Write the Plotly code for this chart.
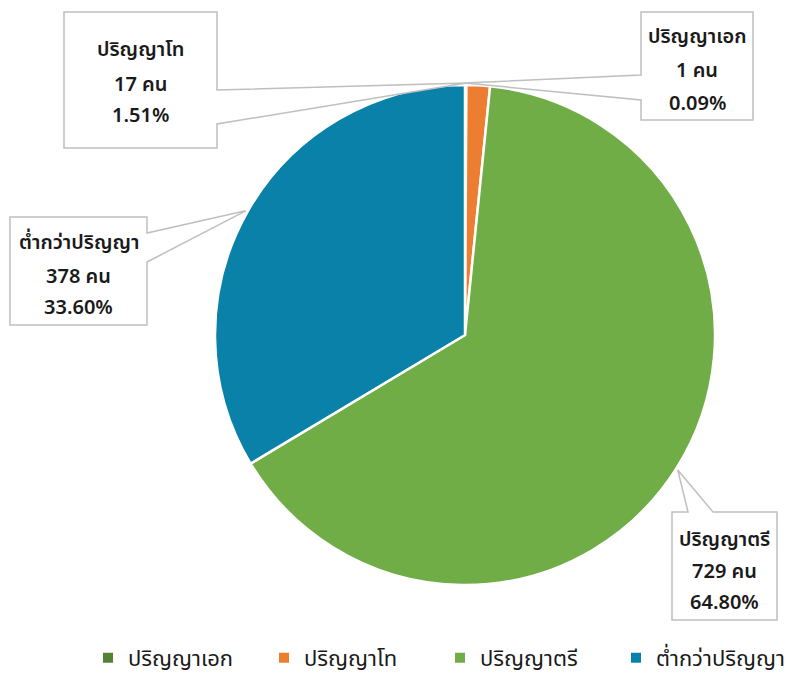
import math
import plotly.graph_objects as go

# ---- data ----
labels = ["ปริญญาเอก", "ปริญญาโท", "ปริญญาตรี", "ต่ำกว่าปริญญา"]
values = [1, 17, 729, 378]
colors = ["#548235", "#ED7D31", "#70AD47", "#0A81A8"]
unit = "คน"

# the page body has an 8px default margin: the figure is drawn at (8, 8)
OX, OY = 8, 8
W, H = 790, 671
CX, CY, R = 465, 335, 250  # pie centre / radius in window pixels


def px(x):
    return (x - OX) / W


def py(y):
    return 1 - (y - OY) / H


FONT = "Tahoma, 'Noto Sans Thai', 'Leelawadee UI', sans-serif"

fig = go.Figure(
    go.Pie(
        labels=labels,
        values=values,
        marker=dict(colors=colors, line=dict(color="white", width=2.5)),
        sort=False,
        direction="clockwise",
        rotation=0,
        textinfo="none",
        hoverinfo="label+value+percent",
        domain=dict(x=[px(CX - R), px(CX + R)], y=[py(CY + R), py(CY - R)]),
    )
)

total = sum(values)
# label boxes: (left, top, right, bottom), side of the callout, callout span
boxes = [
    dict(box=(641, 12, 753, 120), side="left", span=(75, 100), lines=(37, 71, 104)),
    dict(box=(64, 12, 217, 148), side="right", span=(90, 124), lines=(50, 85, 116)),
    dict(box=(672, 512, 777, 620), side="top", span=(688, 713), lines=(540, 572, 603)),
    dict(box=(10, 217, 147, 325), side="right", span=(233, 262), lines=(243, 277, 308)),
]

shapes = []
annotations = []
cum = 0.0
for lab, val, b in zip(labels, values, boxes):
    frac = val / total
    start = cum * 360
    mid = (cum + frac / 2) * 360
    cum += frac
    ang = start if frac < 0.02 else mid
    a = math.radians(ang)
    ax = CX + 252 * math.sin(a)
    ay = CY - 252 * math.cos(a)
    l, t, r, bt = b["box"]
    s0, s1 = b["span"]
    if b["side"] == "right":
        pts = [(l, t), (r, t), (r, s0), (ax, ay), (r, s1), (r, bt), (l, bt)]
    elif b["side"] == "left":
        pts = [(l, t), (r, t), (r, bt), (l, bt), (l, s1), (ax, ay), (l, s0)]
    else:  # top
        pts = [(l, t), (s0, t), (ax, ay), (s1, t), (r, t), (r, bt), (l, bt)]
    path = "M " + " L ".join(f"{px(x):.5f},{py(y):.5f}" for x, y in pts) + " Z"
    shapes.append(
        dict(type="path", path=path, xref="paper", yref="paper",
             fillcolor="white", line=dict(color="#BFBFBF", width=1.5), layer="above")
    )
    texts = [lab, f"{val} {unit}", f"{frac * 100:.2f}%"]
    xc = (l + r) / 2
    for txt, yy in zip(texts, b["lines"]):
        annotations.append(
            dict(text=txt, x=px(xc), y=py(yy), xref="paper", yref="paper",
                 xanchor="center", yanchor="middle", showarrow=False,
                 font=dict(family=FONT, size=20, weight=600, color="#1a1a1a"))
        )

fig.update_layout(
    width=W,
    height=H,
    margin=dict(l=0, r=0, t=0, b=0),
    paper_bgcolor="white",
    plot_bgcolor="white",
    showlegend=True,
    legend=dict(
        orientation="h",
        x=px(88),
        xanchor="left",
        y=0,
        yanchor="bottom",
        font=dict(family=FONT, size=22, color="#1a1a1a"),
        entrywidth=131,
        itemsizing="constant",
        traceorder="normal",
    ),
    shapes=shapes,
    annotations=annotations,
)

fig.write_html("out.html")
